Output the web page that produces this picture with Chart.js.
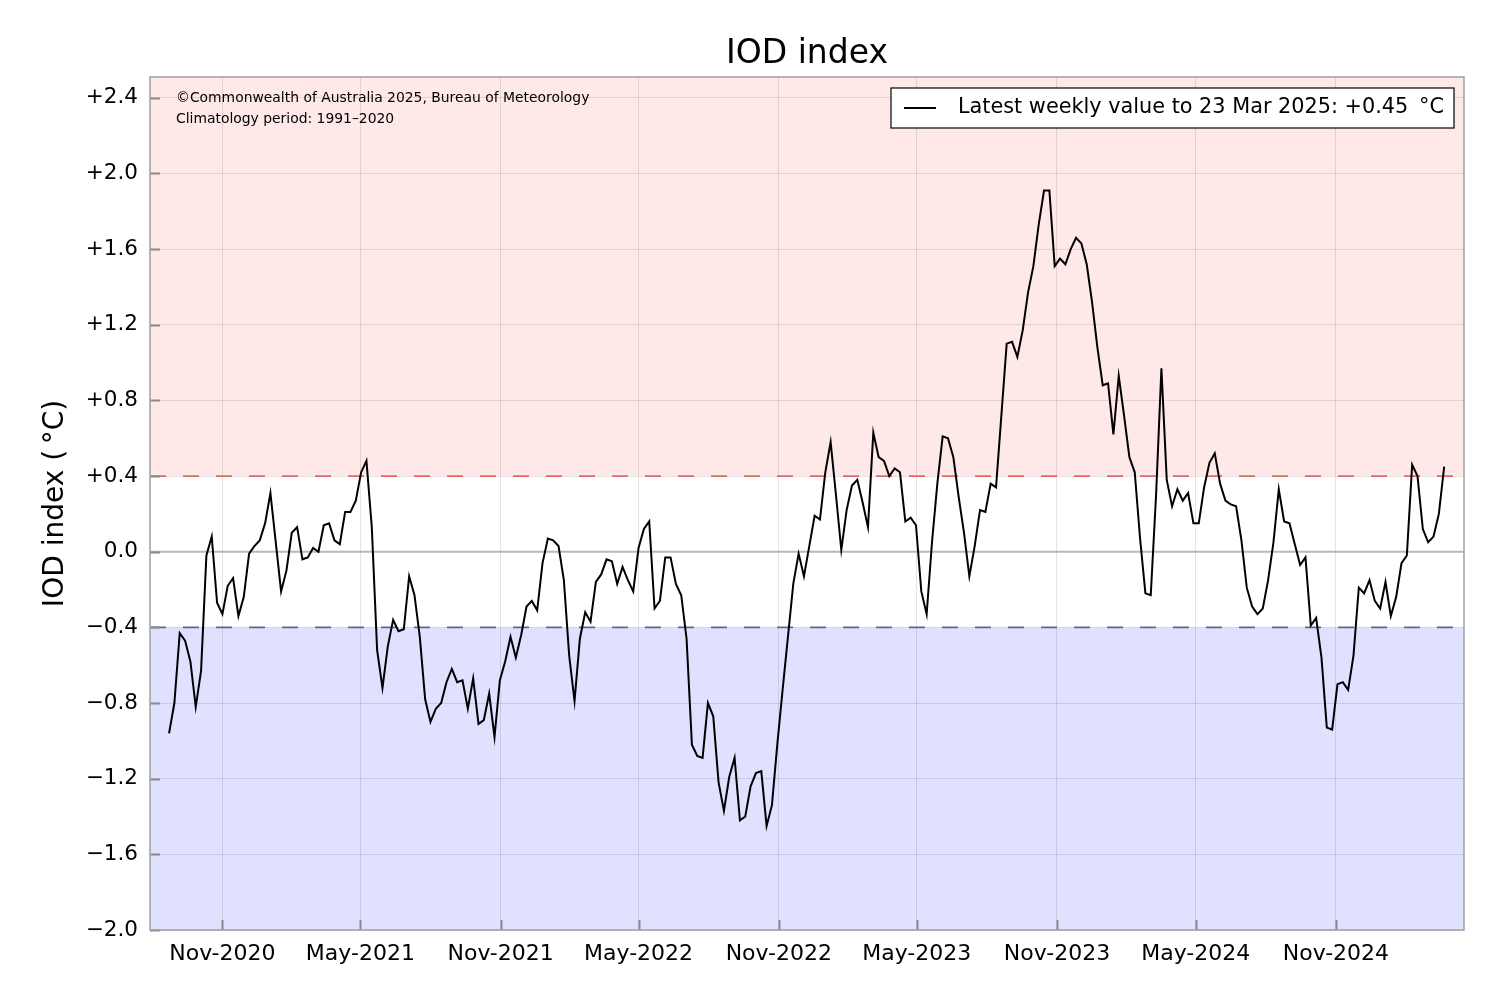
<!DOCTYPE html>
<html>
<head>
<meta charset="utf-8">
<title>IOD index</title>
<script src="https://cdn.jsdelivr.net/npm/chart.js@4.4.1/dist/chart.umd.min.js"></script>
<style>
  html, body { margin: 0; padding: 0; background: #fff; }
  #wrap { width: 1500px; height: 1000px; }
</style>
</head>
<body>
<div id="wrap"><canvas id="iodChart" width="1500" height="1000"></canvas></div>
<script>
const DAY = 86400000;
const toDay = (s) => Date.parse(s) / DAY;

// Weekly IOD values, first week ending 23 Aug 2020, last 23 Mar 2025
const firstWeek = "2020-08-23";
const iodValues = [
  -0.96, -0.80, -0.43, -0.47, -0.58, -0.82, -0.63, -0.02, 0.08, -0.27,
  -0.33, -0.18, -0.14, -0.34, -0.24, -0.01, 0.03, 0.06, 0.15, 0.31,
  0.05, -0.21, -0.10, 0.10, 0.13, -0.04, -0.03, 0.02, 0.00, 0.14,
  0.15, 0.06, 0.04, 0.21, 0.21, 0.27, 0.42, 0.48, 0.13, -0.52,
  -0.72, -0.50, -0.36, -0.42, -0.41, -0.13, -0.23, -0.45, -0.78, -0.90,
  -0.83, -0.80, -0.69, -0.62, -0.69, -0.68, -0.83, -0.67, -0.91, -0.89,
  -0.75, -0.98, -0.68, -0.58, -0.45, -0.56, -0.44, -0.29, -0.26, -0.31,
  -0.06, 0.07, 0.06, 0.03, -0.15, -0.55, -0.79, -0.46, -0.32, -0.37,
  -0.16, -0.12, -0.04, -0.05, -0.17, -0.08, -0.15, -0.21, 0.02, 0.12,
  0.16, -0.30, -0.26, -0.03, -0.03, -0.17, -0.23, -0.46, -1.02, -1.08,
  -1.09, -0.80, -0.87, -1.22, -1.37, -1.19, -1.09, -1.42, -1.40, -1.24,
  -1.17, -1.16, -1.45, -1.34, -1.02, -0.73, -0.45, -0.17, -0.01, -0.13,
  0.03, 0.19, 0.17, 0.42, 0.58, 0.30, 0.01, 0.22, 0.35, 0.38,
  0.26, 0.13, 0.63, 0.50, 0.48, 0.40, 0.44, 0.42, 0.16, 0.18,
  0.14, -0.21, -0.33, 0.05, 0.36, 0.61, 0.60, 0.50, 0.29, 0.10,
  -0.13, 0.03, 0.22, 0.21, 0.36, 0.34, 0.72, 1.10, 1.11, 1.03,
  1.17, 1.37, 1.51, 1.73, 1.91, 1.91, 1.51, 1.55, 1.52, 1.60,
  1.66, 1.63, 1.52, 1.32, 1.08, 0.88, 0.89, 0.62, 0.93, 0.72,
  0.50, 0.42, 0.07, -0.22, -0.23, 0.30, 0.97, 0.38, 0.24, 0.33,
  0.27, 0.31, 0.15, 0.15, 0.34, 0.47, 0.52, 0.36, 0.27, 0.25,
  0.24, 0.06, -0.19, -0.29, -0.33, -0.30, -0.15, 0.05, 0.33, 0.16,
  0.15, 0.04, -0.07, -0.03, -0.39, -0.35, -0.56, -0.93, -0.94, -0.70,
  -0.69, -0.73, -0.55, -0.19, -0.22, -0.15, -0.26, -0.30, -0.16, -0.34,
  -0.24, -0.06, -0.02, 0.46, 0.40, 0.12, 0.05, 0.08, 0.20, 0.45
];

const xTickDates = ["2020-11-01", "2021-05-01", "2021-11-01", "2022-05-01", "2022-11-01",
                    "2023-05-01", "2023-11-01", "2024-05-01", "2024-11-01"];
const xTickLabels = ["Nov-2020", "May-2021", "Nov-2021", "May-2022", "Nov-2022",
                     "May-2023", "Nov-2023", "May-2024", "Nov-2024"];
const yTickValues = [-2.0, -1.6, -1.2, -0.8, -0.4, 0.0, 0.4, 0.8, 1.2, 1.6, 2.0, 2.4];
const yMin = -2.0;
const yMax = 2.51;
const posThreshold = 0.4;
const negThreshold = -0.4;

const legendText = "Latest weekly value to 23 Mar 2025: +0.45 \u2009\u00b0C";
const notes = ["\u00a9Commonwealth of Australia 2025, Bureau of Meteorology",
               "Climatology period: 1991\u20132020"];

const start = toDay(firstWeek);
const lastDay = start + (iodValues.length - 1) * 7;
const points = iodValues.map((v, i) => ({ x: start + i * 7, y: v }));

const FONT = "'DejaVu Sans', 'Liberation Sans', sans-serif";
Chart.defaults.font.family = FONT;
Chart.defaults.color = "#000";

const fmtY = (v) => {
  if (Math.abs(v) < 1e-9) return "0.0";
  return (v > 0 ? "+" : "\u2212") + Math.abs(v).toFixed(1);
};

// background bands, reference lines, frame, notes and legend
const decor = {
  id: "decor",
  beforeDraw(chart) {
    const { ctx, chartArea: a, scales: { y } } = chart;
    const yPos = y.getPixelForValue(posThreshold);
    const yNeg = y.getPixelForValue(negThreshold);
    ctx.save();
    ctx.fillStyle = "#ffe8e8";
    ctx.fillRect(a.left, a.top, a.width, yPos - a.top);
    ctx.fillStyle = "#ffffff";
    ctx.fillRect(a.left, yPos, a.width, yNeg - yPos);
    ctx.fillStyle = "#e0e0ff";
    ctx.fillRect(a.left, yNeg, a.width, a.bottom - yNeg);
    ctx.restore();
  },
  beforeDatasetsDraw(chart) {
    const { ctx, chartArea: a, scales: { y } } = chart;
    const hline = (val, color, width, dash) => {
      const py = y.getPixelForValue(val);
      ctx.save();
      ctx.strokeStyle = color;
      ctx.lineWidth = width;
      ctx.setLineDash(dash);
      ctx.beginPath();
      ctx.moveTo(a.left, py);
      ctx.lineTo(a.right, py);
      ctx.stroke();
      ctx.restore();
    };
    hline(0, "#b8b8b8", 2, []);
    hline(posThreshold, "rgba(225,90,90,0.9)", 1.6, [16, 17]);
    hline(negThreshold, "rgba(85,85,150,0.9)", 1.6, [16, 17]);
  },
  afterDraw(chart) {
    const { ctx, chartArea: a, scales: { x, y } } = chart;
    ctx.save();

    // inward ticks
    ctx.strokeStyle = "#8a8a8a";
    ctx.lineWidth = 2;
    ctx.beginPath();
    x.ticks.forEach((t) => {
      const px = Math.round(x.getPixelForValue(t.value)) + 0.5;
      ctx.moveTo(px, a.bottom);
      ctx.lineTo(px, a.bottom - 10);
    });
    y.ticks.forEach((t) => {
      const py = Math.round(y.getPixelForValue(t.value)) + 0.5;
      ctx.moveTo(a.left, py);
      ctx.lineTo(a.left + 10, py);
    });
    ctx.stroke();

    // frame
    ctx.strokeStyle = "#a0a0a0";
    ctx.lineWidth = 1.5;
    ctx.strokeRect(a.left, a.top, a.width, a.height);

    // title
    ctx.fillStyle = "#000";
    ctx.font = "33px " + FONT;
    ctx.textAlign = "center";
    ctx.textBaseline = "middle";
    ctx.fillText("IOD index", (a.left + a.right) / 2, 54);

    // notes
    ctx.font = "13.9px " + FONT;
    ctx.textAlign = "left";
    ctx.fillText(notes[0], a.left + 26, a.top + 21);
    ctx.fillText(notes[1], a.left + 26, a.top + 42);

    // legend
    ctx.font = "20.8px " + FONT;
    const tw = ctx.measureText(legendText).width;
    const boxRight = a.right - 10;
    const textX = boxRight - 10 - tw;
    const boxLeft = textX - 67;
    const boxTop = a.top + 11;
    const boxH = 40;
    ctx.fillStyle = "#fff";
    ctx.fillRect(boxLeft, boxTop, boxRight - boxLeft, boxH);
    ctx.strokeStyle = "#000";
    ctx.lineWidth = 1.2;
    ctx.strokeRect(boxLeft, boxTop, boxRight - boxLeft, boxH);
    ctx.lineWidth = 2;
    ctx.beginPath();
    ctx.moveTo(textX - 54, boxTop + boxH / 2);
    ctx.lineTo(textX - 22, boxTop + boxH / 2);
    ctx.stroke();
    ctx.fillStyle = "#000";
    ctx.fillText(legendText, textX, boxTop + boxH / 2);

    ctx.restore();
  }
};

const ctx = document.getElementById("iodChart").getContext("2d");
const chart = new Chart(ctx, {
  type: "line",
  data: {
    datasets: [{
      label: legendText,
      data: points,
      borderColor: "#000",
      borderWidth: 2,
      pointRadius: 0,
      fill: false,
      tension: 0
    }]
  },
  options: {
    responsive: false,
    animation: false,
    layout: { padding: { top: 77, right: 36, bottom: 0, left: 0 } },
    plugins: {
      legend: { display: false },
      tooltip: { enabled: false },
      title: { display: false }
    },
    scales: {
      x: {
        type: "linear",
        min: start - 25,
        max: lastDay + 26,
        afterBuildTicks: (s) => { s.ticks = xTickDates.map((d) => ({ value: toDay(d) })); },
        afterFit: (s) => { s.height = 70; },
        grid: { color: "rgba(0,0,0,0.1)", lineWidth: 1, drawTicks: false },
        border: { display: false },
        ticks: {
          padding: 11,
          autoSkip: false,
          maxRotation: 0,
          font: { size: 22 },
          color: "#000",
          callback: (v, i) => xTickLabels[i]
        }
      },
      y: {
        type: "linear",
        min: yMin,
        max: yMax,
        afterBuildTicks: (s) => { s.ticks = yTickValues.map((v) => ({ value: v })); },
        afterFit: (s) => { s.width = 150; },
        grid: { color: "rgba(0,0,0,0.1)", lineWidth: 1, drawTicks: false },
        border: { display: false },
        ticks: {
          padding: 12,
          font: { size: 21.5 },
          color: "#000",
          callback: (v) => fmtY(v)
        },
        title: {
          display: true,
          text: "IOD index (\u2009\u00b0C)",
          font: { size: 28 },
          color: "#000",
          padding: { top: 39, bottom: 0 }
        }
      }
    }
  },
  plugins: [decor]
});
</script>
</body>
</html>
